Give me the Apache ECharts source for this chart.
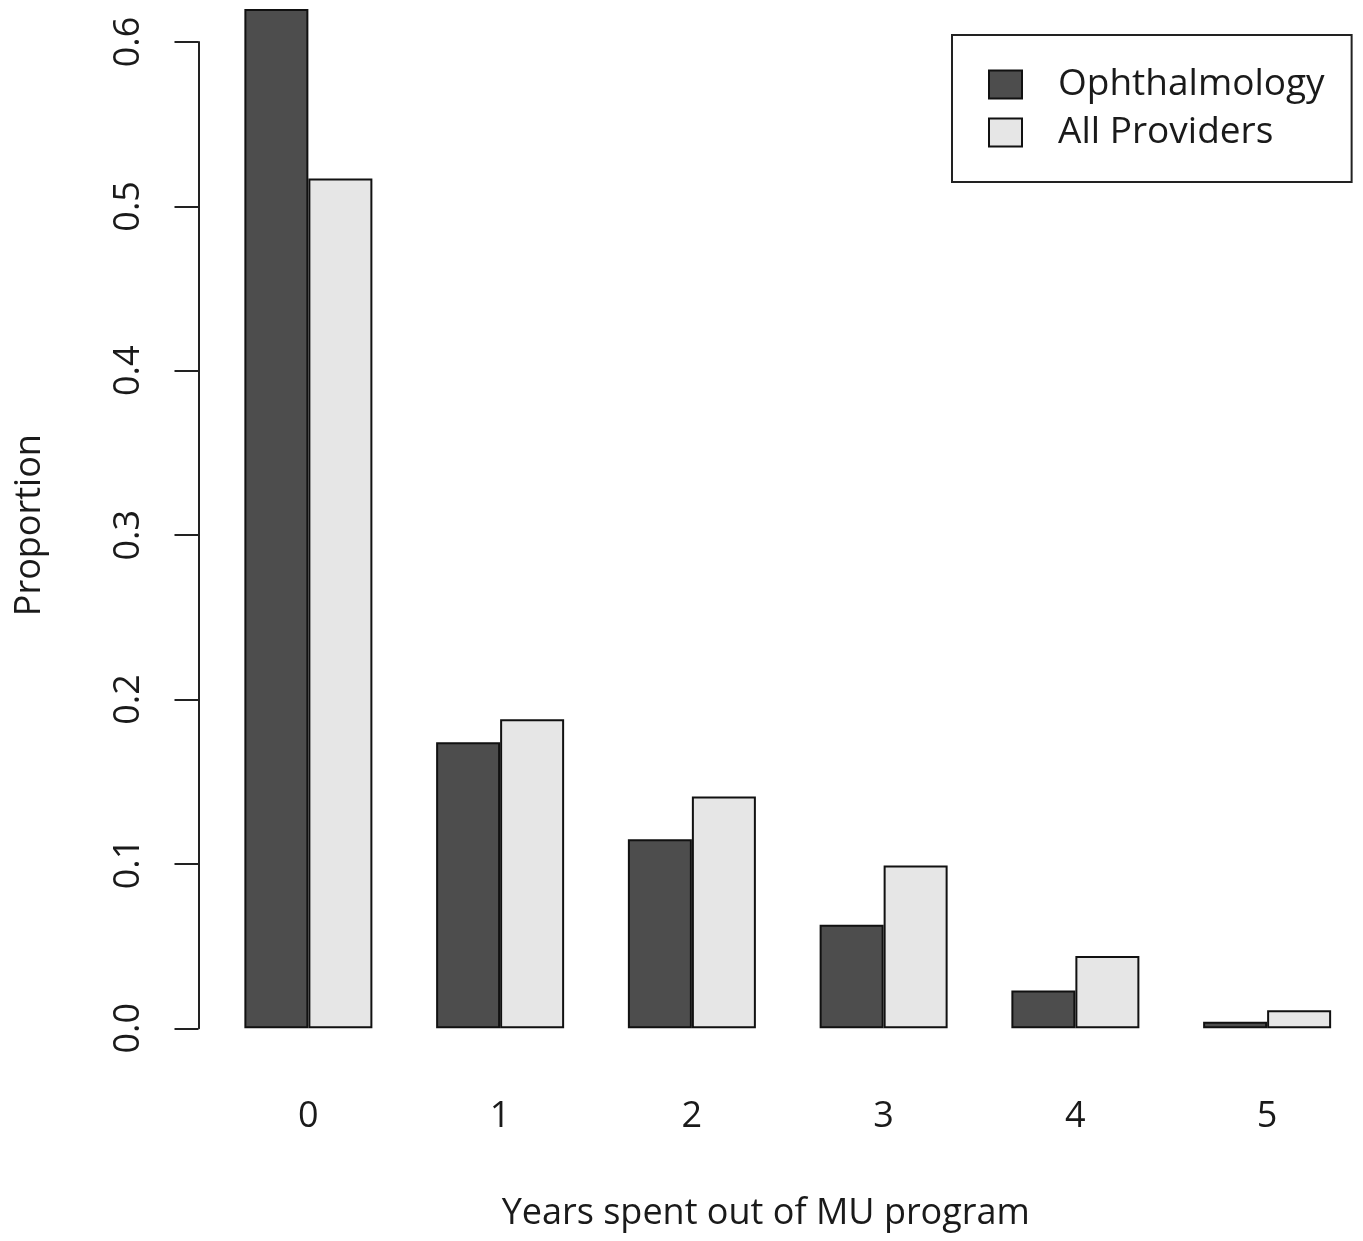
<!DOCTYPE html>
<html>
<head>
<meta charset="utf-8">
<script src="https://cdn.jsdelivr.net/npm/echarts@6/dist/echarts.min.js"></script>
<style>
html,body{margin:0;padding:0;background:#fff;}
#chart{width:1363px;height:1241px;}
</style>
</head>
<body>
<div id="chart"></div>
<script>
const categories = ['0', '1', '2', '3', '4', '5'];
const ophthalmology = [0.620, 0.174, 0.115, 0.063, 0.023, 0.004];
const allProviders = [0.517, 0.188, 0.141, 0.099, 0.044, 0.011];
const seriesNames = ['Ophthalmology', 'All Providers'];
const yTicks = { min: 0, max: 0.6, interval: 0.1 };

const FONT = '"Open Sans", "DejaVu Sans", sans-serif';
const chart = echarts.init(document.getElementById('chart'), null, { renderer: 'canvas' });

chart.setOption({
  animation: false,
  backgroundColor: '#ffffff',
  textStyle: { fontFamily: FONT, color: '#1a1a1a' },
  grid: { left: 212.5, top: 42, width: 1152, height: 986.3 },
  legend: {
    orient: 'vertical',
    left: 952,
    top: 35,
    padding: [31, 27, 31, 36],
    itemWidth: 33,
    itemHeight: 28,
    itemGap: 11,
    icon: 'rect',
    borderColor: '#222',
    borderWidth: 2,
    textStyle: { fontFamily: FONT, fontSize: 37, color: '#1a1a1a', padding: [0, 0, 0, 31] },
    data: seriesNames
  },
  xAxis: {
    type: 'category',
    data: categories,
    boundaryGap: true,
    axisLine: { show: false },
    axisTick: { show: false },
    splitLine: { show: false },
    axisLabel: { fontFamily: FONT, fontSize: 36, color: '#1a1a1a', margin: 70 },
    name: 'Years spent out of MU program',
    nameLocation: 'middle',
    nameGap: 167,
    nameTextStyle: { fontFamily: FONT, fontSize: 36, color: '#1a1a1a', padding: [0, 44, 0, 0] }
  },
  yAxis: {
    type: 'value',
    min: yTicks.min,
    max: yTicks.max,
    interval: yTicks.interval,
    offset: 14,
    axisLine: { show: true, lineStyle: { color: '#222', width: 2 } },
    axisTick: { show: true, inside: false, length: 24, lineStyle: { color: '#222', width: 2 } },
    splitLine: { show: false },
    axisLabel: {
      fontFamily: FONT, fontSize: 36, color: '#1a1a1a', rotate: 90, margin: 52,
      formatter: v => v.toFixed(1)
    },
    name: 'Proportion',
    nameLocation: 'middle',
    nameGap: 151,
    nameTextStyle: { fontFamily: FONT, fontSize: 36, color: '#1a1a1a', padding: [0, 0, 0, 20] }
  },
  series: [
    {
      name: seriesNames[0],
      type: 'bar',
      data: ophthalmology,
      barWidth: 64,
      barGap: '0%',
      clip: false,
      itemStyle: { color: '#4d4d4d', borderColor: '#111', borderWidth: 2 }
    },
    {
      name: seriesNames[1],
      type: 'bar',
      data: allProviders,
      barWidth: 64,
      barGap: '0%',
      clip: false,
      itemStyle: { color: '#e6e6e6', borderColor: '#111', borderWidth: 2 }
    }
  ]
});
</script>
</body>
</html>
